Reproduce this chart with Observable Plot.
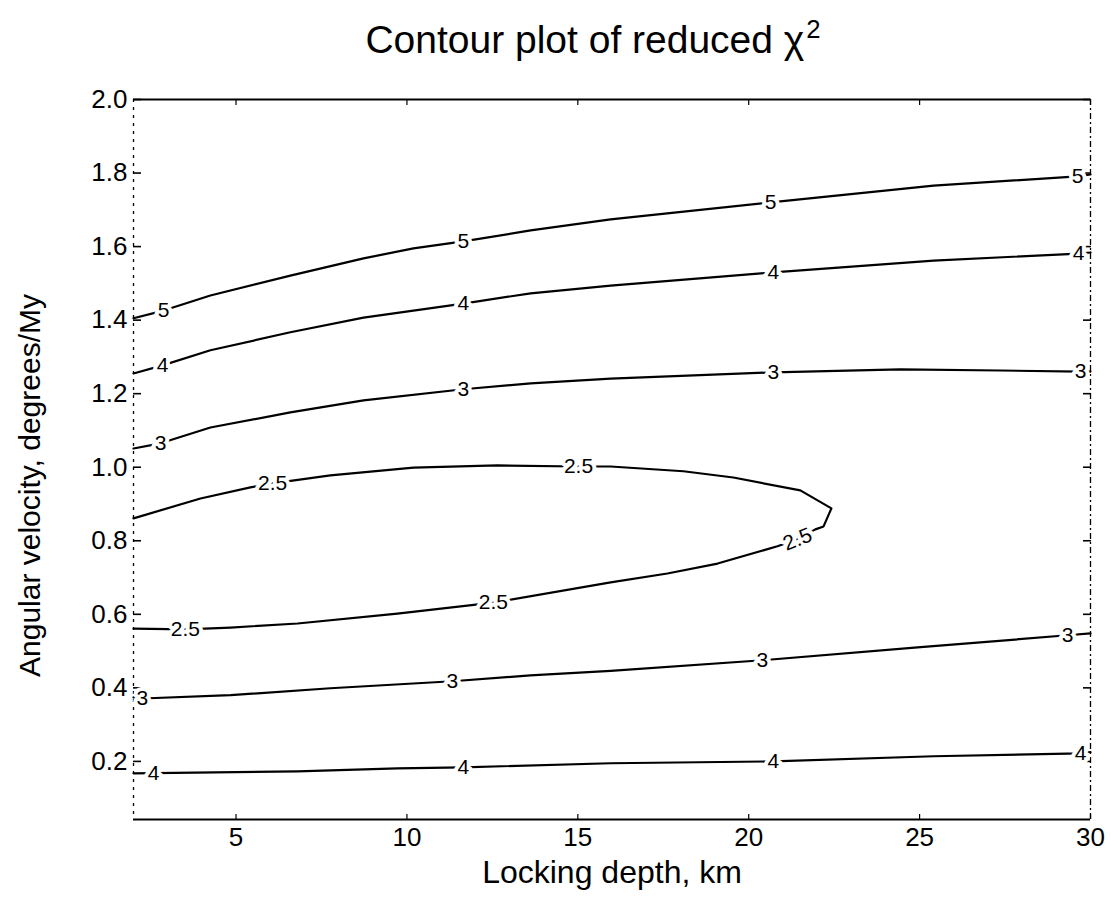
<!DOCTYPE html>
<html><head><meta charset="utf-8">
<script src="https://cdn.jsdelivr.net/npm/d3@7"></script>
<script src="https://cdn.jsdelivr.net/npm/@observablehq/plot@0.6"></script>
<style>
html,body{margin:0;padding:0;background:#fff;overflow:hidden;}
#wrap{position:relative;width:1111px;height:900px;font-family:"Liberation Sans",Arial,sans-serif;}
#title{position:absolute;left:593px;top:20px;transform:translateX(-50%);white-space:nowrap;font-size:39px;line-height:1;color:#000;}
#title .sup{font-size:0.66em;position:relative;top:-0.6em;margin-left:2px;}
#chart{position:absolute;left:0;top:70px;}
</style></head><body>
<div id="wrap">
<div id="title">Contour plot of reduced χ<span class="sup">2</span></div>
<div id="chart"></div>
</div>
<script>
// axis ticks
const xTicks = [5, 10, 15, 20, 25, 30];
const yTicks = [0.2, 0.4, 0.6, 0.8, 1.0, 1.2, 1.4, 1.6, 1.8, 2.0];
const xDomain = [2, 30];
const yDomain = [0.042, 2.0];

// contour level 5
const c5X = [2.0, 2.88, 4.25, 6.59, 8.73, 10.19, 11.65, 13.62, 15.96, 20.64, 25.41, 29.62, 30.0];
const c5Y = [1.405, 1.426, 1.467, 1.521, 1.568, 1.595, 1.614, 1.644, 1.674, 1.720, 1.766, 1.791, 1.796];
// contour level 4 (upper)
const c4aX = [2.0, 2.85, 4.25, 6.59, 8.73, 11.65, 13.62, 15.96, 20.72, 25.41, 29.65, 30.0];
const c4aY = [1.255, 1.277, 1.318, 1.367, 1.407, 1.445, 1.473, 1.494, 1.530, 1.562, 1.581, 1.584];
// contour level 3 (upper)
const c3aX = [2.0, 2.79, 4.25, 6.59, 8.73, 11.65, 13.62, 15.96, 20.72, 24.44, 27.36, 29.71, 30.0];
const c3aY = [1.051, 1.065, 1.108, 1.149, 1.182, 1.212, 1.228, 1.241, 1.258, 1.266, 1.263, 1.260, 1.260];
// contour level 2.5 (closed towards the right)
const c25X = [2.0, 3.96, 5.42, 6.07, 7.76, 10.19, 12.65, 15.02, 15.96, 18.09, 19.55, 21.51, 22.42, 22.19, 21.95, 21.43, 20.84, 19.09, 17.62, 15.96, 12.53, 9.72, 6.80, 4.84, 3.52, 2.0];
const c25Y = [0.861, 0.915, 0.945, 0.956, 0.978, 0.999, 1.005, 1.002, 1.002, 0.989, 0.972, 0.937, 0.888, 0.839, 0.831, 0.804, 0.785, 0.738, 0.711, 0.687, 0.632, 0.602, 0.575, 0.564, 0.559, 0.561];
// contour level 3 (lower)
const c3bX = [2.0, 2.26, 4.84, 7.76, 11.33, 13.61, 15.96, 20.40, 24.94, 29.33, 30.0];
const c3bY = [0.374, 0.371, 0.380, 0.399, 0.418, 0.434, 0.446, 0.475, 0.510, 0.543, 0.548];
// contour level 4 (lower)
const c4bX = [2.0, 2.59, 6.80, 9.72, 11.65, 15.96, 20.72, 25.41, 29.71, 30.0];
const c4bY = [0.1675, 0.168, 0.173, 0.181, 0.184, 0.195, 0.200, 0.214, 0.222, 0.225];

// contour labels
const labelX = [2.88, 11.65, 20.64, 29.62, 2.85, 11.65, 20.72, 29.65, 2.79, 11.65, 20.72, 29.71, 6.07, 15.02, 21.43, 12.53, 3.52, 2.26, 11.33, 20.40, 29.33, 2.59, 11.65, 20.72, 29.71];
const labelY = [1.426, 1.614, 1.720, 1.791, 1.277, 1.445, 1.530, 1.581, 1.065, 1.212, 1.258, 1.260, 0.956, 1.002, 0.804, 0.632, 0.559, 0.371, 0.418, 0.475, 0.543, 0.168, 0.184, 0.200, 0.222];
const labelText = ["5","5","5","5","4","4","4","4","3","3","3","3","2.5","2.5","2.5","2.5","2.5","3","3","3","3","4","4","4","4"];
const labelAngle = [0,0,0,0,0,0,0,0,0,0,0,0,0,0,-22,0,0,0,0,0,0,0,0,0,0];

const contours = [
  {id: "5", xs: c5X, ys: c5Y},
  {id: "4a", xs: c4aX, ys: c4aY},
  {id: "3a", xs: c3aX, ys: c3aY},
  {id: "2.5", xs: c25X, ys: c25Y},
  {id: "3b", xs: c3bX, ys: c3bY},
  {id: "4b", xs: c4bX, ys: c4bY}
];
const lineRows = contours.flatMap(c => c.xs.map((x, i) => ({id: c.id, x, y: c.ys[i]})));
const labelRows = labelX.map((x, i) => ({x, y: labelY[i], t: labelText[i], r: labelAngle[i]}));

const font = "Liberation Sans, Arial, sans-serif";
const chart = Plot.plot({
  width: 1111,
  height: 830,
  marginLeft: 133,
  marginRight: 21,
  marginTop: 29,
  marginBottom: 81,
  style: {fontFamily: font, background: "white", color: "black"},
  x: {domain: xDomain},
  y: {domain: yDomain},
  marks: [
    // frame
    Plot.ruleY([yDomain[1]], {stroke: "black", strokeWidth: 2.2}),
    Plot.ruleY([yDomain[0]], {stroke: "black", strokeWidth: 2.2}),
    Plot.ruleX([xDomain[0]], {stroke: "black", strokeWidth: 1.3, strokeDasharray: "3,5"}),
    Plot.ruleX([xDomain[1]], {stroke: "black", strokeWidth: 1.3, strokeDasharray: "6,3,2,3"}),
    // inward ticks
    Plot.axisY({ticks: yTicks, anchor: "left", tickSize: -8, tickFormat: () => "", label: null, strokeWidth: 1.6}),
    Plot.axisY({ticks: yTicks, anchor: "right", tickSize: -8, tickFormat: () => "", label: null, strokeWidth: 1.6}),
    Plot.axisX({ticks: xTicks, anchor: "bottom", tickSize: -5, tickFormat: () => "", label: null, strokeWidth: 1.2}),
    Plot.axisX({ticks: xTicks, anchor: "top", tickSize: -5, tickFormat: () => "", label: null, strokeWidth: 1.2}),
    // tick labels
    Plot.axisY({ticks: yTicks, anchor: "left", tickSize: 0, tickPadding: 6, fontSize: 26, tickFormat: d3.format(".1f"), label: null}),
    Plot.axisX({ticks: xTicks, anchor: "bottom", tickSize: 0, tickPadding: 8, fontSize: 26, tickFormat: d => String(d), label: null}),
    // axis titles
    Plot.text(["Angular velocity, degrees/My"], {text: d => d, frameAnchor: "left", textAnchor: "middle", dx: -103, dy: 26, rotate: -90, fontSize: 30, fill: "black"}),
    Plot.text(["Locking depth, km"], {text: d => d, frameAnchor: "bottom", textAnchor: "middle", dy: 63, fontSize: 32, fill: "black"}),
    // contours
    Plot.line(lineRows, {x: "x", y: "y", z: "id", stroke: "black", strokeWidth: 2.2, curve: "linear"}),
    Plot.text(labelRows, {x: "x", y: "y", text: "t", rotate: "r", fontSize: 21, fill: "black", stroke: "white", strokeWidth: 8, strokeLinejoin: "round"})
  ]
});
document.getElementById("chart").appendChild(chart);
</script>
</body></html>
